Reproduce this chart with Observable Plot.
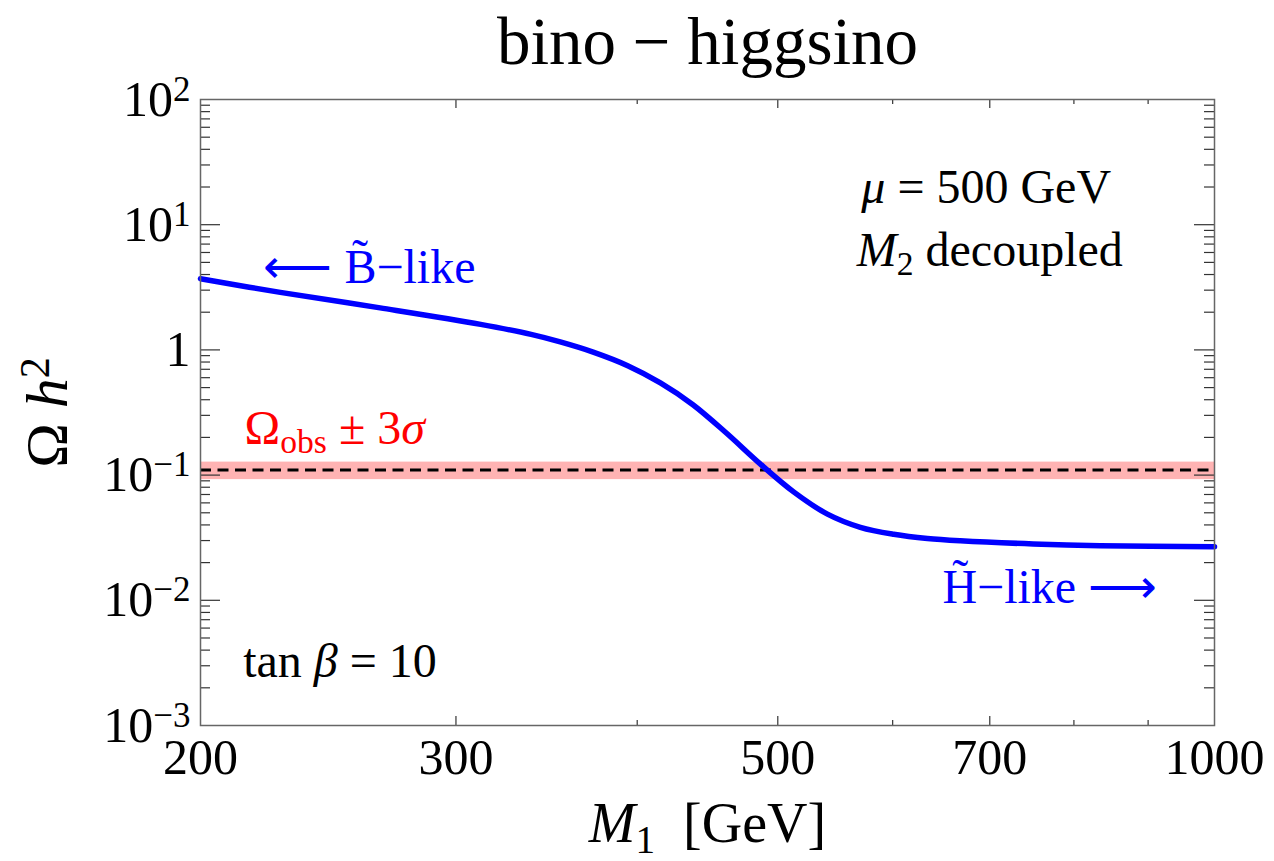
<!DOCTYPE html>
<html>
<head>
<meta charset="utf-8">
<script src="https://cdn.jsdelivr.net/npm/d3@7"></script>
<script src="https://cdn.jsdelivr.net/npm/@observablehq/plot@0.6"></script>
<style>
  body { margin: 0; background: #fff; }
</style>
</head>
<body>
<div id="chart"></div>
<script>
// ---- data ----
const M1 = [200, 227, 266, 312, 338, 354, 373, 394, 415, 437, 461, 486, 513, 541, 570, 601, 634, 668, 750, 834, 1000];
const omegaH2 = [3.70, 2.88, 2.165, 1.598, 1.330, 1.158, 0.960, 0.748, 0.545, 0.365, 0.2157, 0.1234, 0.0731, 0.0488, 0.0383, 0.0337, 0.0312, 0.0299, 0.0282, 0.0273, 0.0268];

const obsCentral = 0.11;
const obsLow = 0.092;
const obsHigh = 0.127;

const xTickValues = [200, 300, 500, 700, 1000];
const xMinorValues = [400, 600, 800, 900];
const yTickValues = [1e-3, 1e-2, 1e-1, 1, 10, 100];
const yTickLabels = ["10^{−3}", "10^{−2}", "10^{−1}", "1", "10^{1}", "10^{2}"];
const yMinorValues = yTickValues.slice(0, -1).flatMap(d => [2, 3, 4, 5, 6, 7, 8, 9].map(k => k * d));

const titleText = "bino − higgsino";
const xLabelText = "*{M}_{1}\u00a0\u00a0[GeV]";
const yLabelText = "Ω\u00a0*{h}^{2}";

// annotations: text and anchor in data coordinates (M1, Ω h²)
const annotations = [
  {key: "bino", text: "⟵ B\u0303−like", m1: 221, omega: 3.45},
  {key: "higgsino", text: "H\u0303−like ⟶", m1: 913, omega: 0.0096},
  {key: "obs", text: "Ω_{obs} ± 3*{σ}", m1: 214.5, omega: 0.1788},
  {key: "mu", text: "*{μ} = 500 GeV", m1: 696, omega: 15.0},
  {key: "m2", text: "*{M}_{2} decoupled", m1: 700, omega: 4.72},
  {key: "tanb", text: "tan *{β} = 10", m1: 214, omega: 0.00242}
];

// ---- layout / style ----
const W = 1274, H = 861;
const mL = 200, mR = 60, mT = 99, mB = 136;
const pw = W - mL - mR, ph = H - mT - mB;
const serif = "'Liberation Serif', 'Times New Roman', Times, serif";
const annStyle = {
  bino: {fill: "#0000ff", textAnchor: "start"},
  higgsino: {fill: "#0000ff", textAnchor: "end"},
  obs: {fill: "#ff0000", textAnchor: "start"},
  mu: {fill: "#000", textAnchor: "middle"},
  m2: {fill: "#000", textAnchor: "middle"},
  tanb: {fill: "#000", textAnchor: "start"}
};

const curveData = M1.map((m, i) => ({m1: m, omega: omegaH2[i]}));
const tickStroke = "#333";
const xInner = xTickValues.filter(d => d > 200 && d < 1000);
const yInner = yTickValues.filter(d => d > 1e-3 && d < 1e2);

const chart = Plot.plot({
  width: W, height: H,
  marginLeft: mL, marginRight: mR, marginTop: mT, marginBottom: mB,
  style: {fontFamily: serif, background: "#fff", color: "#000"},
  x: {type: "log", domain: [200, 1000]},
  y: {type: "log", domain: [1e-3, 1e2]},
  marks: [
    Plot.rect([{lo: obsLow, hi: obsHigh}], {y1: "lo", y2: "hi", fill: "#ffb3b3"}),
    Plot.ruleY([obsCentral], {stroke: "#000", strokeWidth: 3, strokeDasharray: "11,6.5"}),
    Plot.line(curveData, {x: "m1", y: "omega", stroke: "#0000ff", strokeWidth: 5.5, curve: "catmull-rom"}),
    // inward ticks
    Plot.tickY(yInner, {y: d => d, insetRight: pw - 20, stroke: tickStroke, strokeWidth: 1.2}),
    Plot.tickY(yMinorValues, {y: d => d, insetRight: pw - 10, stroke: tickStroke, strokeWidth: 1.2}),
    Plot.tickY(yInner, {y: d => d, insetLeft: pw - 20, stroke: tickStroke, strokeWidth: 1.2}),
    Plot.tickY(yMinorValues, {y: d => d, insetLeft: pw - 10, stroke: tickStroke, strokeWidth: 1.2}),
    Plot.tickX(xInner, {x: d => d, insetTop: ph - 9, stroke: tickStroke, strokeWidth: 1.2}),
    Plot.tickX(xMinorValues, {x: d => d, insetTop: ph - 5, stroke: tickStroke, strokeWidth: 1.2}),
    Plot.tickX(xInner, {x: d => d, insetBottom: ph - 9, stroke: tickStroke, strokeWidth: 1.2}),
    Plot.tickX(xMinorValues, {x: d => d, insetBottom: ph - 5, stroke: tickStroke, strokeWidth: 1.2}),
    // axes (labels only)
    Plot.axisX(xTickValues, {tickSize: 0, tickPadding: 13, fontSize: 50, tickFormat: d => String(d), label: null}),
    Plot.axisY(yTickValues, {tickSize: 0, tickPadding: 10, fontSize: 50, tickFormat: d => yTickLabels[yTickValues.indexOf(d)], label: null}),
    // title and axis labels
    Plot.text([titleText], {text: d => d, frameAnchor: "top", dy: -36, lineAnchor: "bottom", fontSize: 67, fill: "#000"}),
    Plot.text([xLabelText], {text: d => d, frameAnchor: "bottom", dy: 116, lineAnchor: "bottom", fontSize: 56, fill: "#000"}),
    Plot.text([yLabelText], {text: d => d, frameAnchor: "left", dx: -134, rotate: -90, lineAnchor: "bottom", textAnchor: "middle", fontSize: 60, fill: "#000"}),
    // annotations
    ...annotations.map(a => Plot.text([a], {x: "m1", y: "omega", text: "text", lineAnchor: "bottom", fontSize: 48, ...annStyle[a.key]})),
    Plot.frame({stroke: "#666", strokeWidth: 1.5})
  ]
});

document.getElementById("chart").append(chart);

// simple markup: ^{..} superscript, _{..} subscript, *{..} italic
const svgNS = "http://www.w3.org/2000/svg";
function applyMarkup(el) {
  const s = el.textContent;
  if (!/[\^_*]\{/.test(s)) return;
  const fs = parseFloat(getComputedStyle(el).fontSize) || 16;
  el.textContent = "";
  let shift = 0;
  function add(str, kind) {
    if (!str) return;
    const t = document.createElementNS(svgNS, "tspan");
    let target = 0;
    if (kind === "^") { target = -0.3 * fs; t.setAttribute("font-size", 0.7 * fs); }
    else if (kind === "_") { target = 0.2 * fs; t.setAttribute("font-size", 0.7 * fs); }
    else if (kind === "*") { t.setAttribute("font-style", "italic"); }
    if (target !== shift) { t.setAttribute("dy", target - shift); shift = target; }
    t.textContent = str;
    el.appendChild(t);
  }
  const re = /([\^_*])\{([^}]*)\}/g;
  let last = 0, m;
  while ((m = re.exec(s)) !== null) {
    add(s.slice(last, m.index), "");
    add(m[2], m[1]);
    last = re.lastIndex;
  }
  add(s.slice(last), "");
}
chart.querySelectorAll("text").forEach(applyMarkup);
</script>
</body>
</html>
